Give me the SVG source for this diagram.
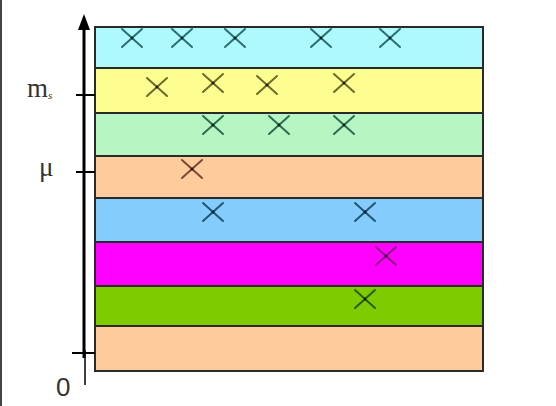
<svg xmlns="http://www.w3.org/2000/svg" width="556" height="406" viewBox="0 0 556 406">
<defs>
<style>
.band{stroke:#2a2a2a;stroke-width:2}
.x{fill:none;stroke-width:2;stroke-linecap:round}
.dot{fill:#111}
.lbl{font-family:"Liberation Serif",serif;fill:#333}
.axis{stroke:#000;fill:none}
</style>
<g id="cross"><path class="x" d="M-10,-9 L10,9 M-10,9 L10,-9"/><circle class="dot" r="1.6"/></g>
</defs>
<rect width="556" height="406" fill="#fff"/>
<rect x="0" y="0" width="2" height="406" fill="#444"/>
<g id="bands">
<rect class="band" x="95" y="27" width="388" height="41" fill="#adf9fd"/>
<rect class="band" x="95" y="68" width="388" height="45" fill="#fdfd90"/>
<rect class="band" x="95" y="113" width="388" height="43" fill="#b6f6c2"/>
<rect class="band" x="95" y="156" width="388" height="42" fill="#fecc9c"/>
<rect class="band" x="95" y="198" width="388" height="44" fill="#84ccfc"/>
<rect class="band" x="95" y="242" width="388" height="44" fill="#ff00ff"/>
<rect class="band" x="95" y="286" width="388" height="40" fill="#7ecc00"/>
<rect class="band" x="95" y="326" width="388" height="45" fill="#fecc9c"/>
</g>
<g id="crosses">
<g stroke="#2d6e70"><use href="#cross" x="132" y="38"/><use href="#cross" x="182" y="38"/><use href="#cross" x="235" y="38"/><use href="#cross" x="321" y="38"/><use href="#cross" x="390" y="38"/></g>
<g stroke="#6d6a2a"><use href="#cross" x="157" y="87"/><use href="#cross" x="213" y="83"/><use href="#cross" x="267" y="85"/><use href="#cross" x="344" y="83"/></g>
<g stroke="#2f6b50"><use href="#cross" x="213" y="125"/><use href="#cross" x="279" y="125"/><use href="#cross" x="344" y="125"/></g>
<g stroke="#7a4a33"><use href="#cross" x="192" y="169"/></g>
<g stroke="#1e5574"><use href="#cross" x="213" y="212"/><use href="#cross" x="365" y="212"/></g>
<g stroke="#8e1486"><use href="#cross" x="386" y="256"/></g>
<g stroke="#2d5a12"><use href="#cross" x="365" y="299"/></g>
</g>
<g id="axis">
<line class="axis" x1="84" y1="26" x2="84" y2="358" stroke-width="3"/>
<line class="axis" x1="85" y1="350" x2="85" y2="385" stroke-width="1.5" stroke="#333"/>
<polygon points="84,14 90,30 78,30" fill="#000"/>
<line class="axis" x1="76" y1="95" x2="95" y2="95" stroke-width="2"/>
<line class="axis" x1="76" y1="172" x2="95" y2="172" stroke-width="2"/>
<line class="axis" x1="72" y1="353" x2="95" y2="353" stroke-width="2"/>
</g>
<g id="labels">
<text class="lbl" x="27" y="97" font-size="27">m<tspan font-size="11" font-style="italic" dy="2">s</tspan></text>
<text class="lbl" x="39" y="176" font-size="27">μ</text>
<text x="56" y="396" font-family="Liberation Sans,sans-serif" font-size="26" fill="#333">0</text>
</g>
</svg>
